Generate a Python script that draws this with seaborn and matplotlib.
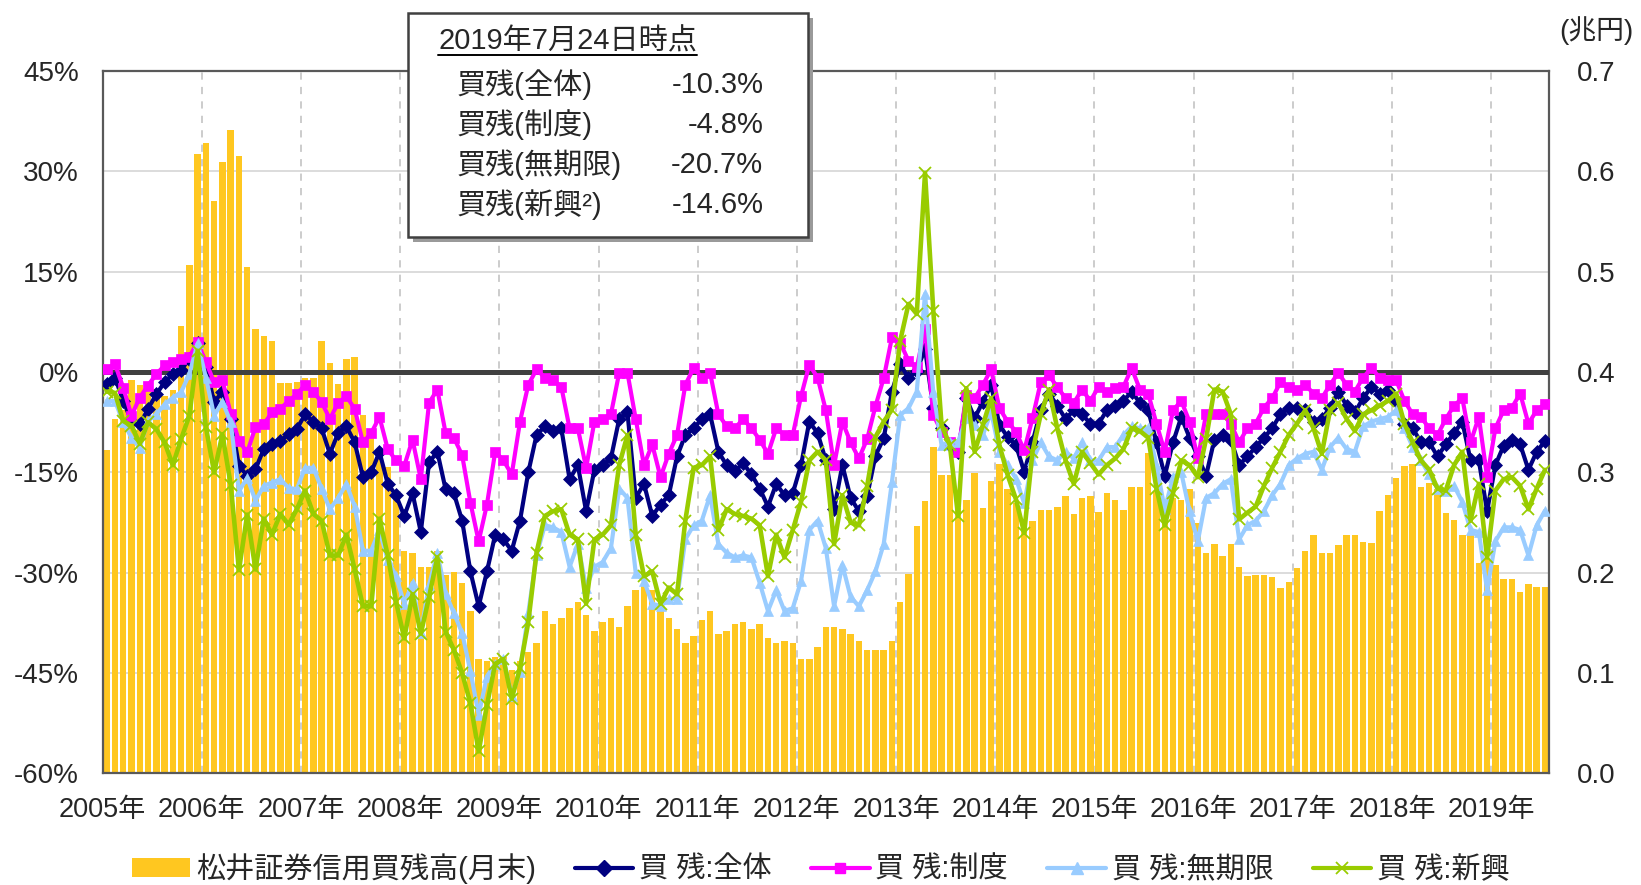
import numpy as np
import pandas as pd
import matplotlib
matplotlib.use("Agg")
import matplotlib.pyplot as plt
import seaborn as sns
from matplotlib.patches import Rectangle, Patch
from matplotlib.lines import Line2D

# ---------------- data (monthly, 2005-01 .. 2019-07) ----------------
years = list(range(2005, 2020))
year_labels = [f"{y}年" for y in years]

balance = [  # 松井証券信用買残高(月末), 兆円
    0.322, 0.353, 0.362, 0.392, 0.387, 0.385, 0.383, 0.376, 0.382, 0.446, 0.507, 0.617,
    0.628, 0.571, 0.609, 0.641, 0.615, 0.505, 0.443, 0.436, 0.431, 0.389, 0.389, 0.390,
    0.394, 0.394, 0.431, 0.409, 0.388, 0.413, 0.415, 0.357, 0.337, 0.320, 0.305, 0.280,
    0.222, 0.220, 0.206, 0.206, 0.222, 0.198, 0.201, 0.190, 0.162, 0.114, 0.112, 0.116,
    0.116, 0.103, 0.112, 0.121, 0.130, 0.162, 0.149, 0.155, 0.165, 0.171, 0.158, 0.142,
    0.151, 0.155, 0.146, 0.167, 0.183, 0.190, 0.183, 0.167, 0.155, 0.144, 0.130, 0.137,
    0.153, 0.162, 0.139, 0.142, 0.149, 0.151, 0.144, 0.149, 0.135, 0.130, 0.132, 0.130,
    0.114, 0.114, 0.126, 0.146, 0.146, 0.144, 0.139, 0.132, 0.123, 0.123, 0.123, 0.132,
    0.171, 0.199, 0.247, 0.272, 0.325, 0.297, 0.297, 0.265, 0.273, 0.299, 0.265, 0.292,
    0.308, 0.284, 0.270, 0.252, 0.252, 0.263, 0.263, 0.266, 0.277, 0.259, 0.275, 0.277,
    0.261, 0.280, 0.273, 0.263, 0.286, 0.286, 0.319, 0.282, 0.273, 0.275, 0.273, 0.284,
    0.250, 0.220, 0.229, 0.217, 0.229, 0.206, 0.197, 0.198, 0.198, 0.196, 0.185, 0.191,
    0.205, 0.222, 0.238, 0.220, 0.220, 0.228, 0.238, 0.238, 0.231, 0.230, 0.262, 0.278,
    0.295, 0.306, 0.308, 0.286, 0.290, 0.284, 0.260, 0.253, 0.238, 0.238, 0.210, 0.215,
    0.208, 0.194, 0.194, 0.181, 0.189, 0.186, 0.186,
]

total = [  # 買残:全体 (%)
    -1.8, -0.8, -4.3, -7.3, -7.8, -5.5, -3.3, -1.5, -0.3, 0.3, 2.0, 4.3,
    0.8, -4.5, -2.9, -7.0, -14.0, -15.5, -14.5, -11.5, -10.8, -10.3, -9.3, -8.5,
    -6.3, -7.4, -8.4, -12.2, -9.1, -8.1, -10.5, -15.7, -15.0, -11.9, -16.7, -18.4,
    -21.5, -18.1, -23.9, -13.5, -11.9, -17.5, -18.1, -22.2, -29.8, -35.0, -29.8, -24.3,
    -25.0, -26.7, -22.2, -15.0, -9.4, -8.1, -8.8, -8.4, -16.0, -13.9, -20.8, -14.6,
    -13.9, -12.9, -7.0, -6.0, -18.8, -16.7, -21.5, -19.8, -18.4, -12.6, -9.4, -8.4,
    -7.0, -6.3, -11.9, -13.9, -14.8, -13.6, -15.3, -17.4, -20.1, -16.7, -18.4, -18.1,
    -13.9, -7.4, -9.1, -13.2, -20.5, -13.9, -18.8, -20.8, -18.5, -12.5, -9.9, -2.9,
    1.2, -0.9, 0.2, 3.5, -5.4, -8.4, -10.9, -11.9, -3.9, -6.9, -4.4, -1.9,
    -7.9, -9.7, -10.9, -14.9, -10.5, -5.7, -3.2, -5.0, -7.0, -5.7, -6.3, -7.7,
    -7.7, -5.7, -5.0, -4.3, -2.9, -4.6, -5.7, -10.5, -15.5, -10.5, -6.7, -9.8,
    -12.6, -15.5, -10.1, -9.4, -10.1, -13.9, -12.6, -11.2, -9.8, -8.4, -6.3, -5.3,
    -5.3, -5.7, -7.4, -7.0, -5.3, -2.9, -5.0, -6.0, -3.9, -2.2, -3.2, -2.6,
    -4.3, -7.7, -8.4, -10.5, -10.5, -12.6, -10.8, -9.1, -7.4, -13.2, -13.2, -20.8,
    -13.9, -11.0, -10.1, -10.8, -14.6, -11.9, -10.3,
]

seido = [  # 買残:制度 (%)
    0.5, 1.2, -2.3, -6.5, -3.8, -2.0, -0.3, 1.0, 1.5, 2.0, 2.3, 4.5,
    1.5, -1.5, -1.2, -6.2, -10.3, -12.0, -8.2, -7.8, -6.0, -5.5, -4.3, -3.3,
    -1.9, -2.9, -4.5, -7.0, -4.6, -3.6, -5.5, -10.5, -9.1, -6.7, -11.5, -13.2,
    -14.0, -10.1, -16.0, -4.6, -2.6, -9.1, -9.8, -12.4, -19.5, -25.3, -19.8, -11.9,
    -13.2, -15.3, -7.4, -1.9, 0.4, -0.8, -1.2, -2.2, -8.4, -8.4, -14.3, -7.4,
    -7.0, -6.3, -0.1, -0.1, -7.0, -13.9, -10.8, -15.7, -12.2, -9.4, -1.9, 0.6,
    -0.8, -0.1, -6.3, -8.1, -8.4, -7.0, -8.4, -10.1, -12.2, -8.4, -9.4, -9.4,
    -3.6, 1.1, -0.8, -5.7, -13.9, -7.4, -10.5, -12.9, -10.0, -5.1, -0.9, 5.2,
    4.4, 1.7, 0.7, 6.5, -6.4, -8.9, -10.5, -11.9, -3.4, -3.9, -1.9, 0.4,
    -5.4, -7.4, -8.9, -11.7, -6.9, -1.5, -0.5, -2.2, -3.9, -4.6, -2.6, -4.3,
    -2.2, -2.9, -2.4, -2.2, 0.6, -2.6, -3.2, -7.7, -11.9, -5.7, -4.3, -7.4,
    -12.9, -6.3, -6.3, -6.3, -7.7, -10.5, -8.4, -7.7, -5.3, -3.9, -1.5, -2.2,
    -2.6, -1.9, -3.2, -3.9, -1.9, -0.1, -1.9, -2.9, -0.8, 0.6, -0.8, -1.2,
    -1.2, -4.3, -6.3, -6.7, -8.4, -9.4, -7.0, -5.0, -3.9, -10.5, -6.7, -15.7,
    -8.4, -5.7, -5.3, -3.2, -7.7, -5.7, -4.8,
]

mukigen = [  # 買残:無期限 (%)
    -4.3, -4.3, -7.5, -9.8, -11.3, -7.3, -6.3, -4.8, -3.8, -3.0, -0.3, 4.3,
    -0.8, -6.5, -4.4, -7.5, -17.8, -15.8, -19.2, -17.0, -16.5, -16.0, -17.3, -17.5,
    -14.3, -14.3, -17.4, -20.5, -18.8, -16.7, -20.1, -26.7, -26.7, -23.6, -28.1, -30.5,
    -34.6, -31.5, -39.0, -31.8, -27.0, -33.1, -36.0, -39.0, -44.7, -51.2, -45.5, -43.6,
    -42.9, -48.4, -44.8, -36.0, -27.4, -22.9, -23.2, -23.9, -29.1, -25.7, -32.2, -29.1,
    -28.4, -26.3, -17.4, -18.8, -30.0, -31.2, -34.6, -35.0, -33.9, -33.9, -25.0, -22.9,
    -22.2, -18.4, -25.7, -27.0, -27.7, -27.4, -27.7, -31.5, -35.7, -32.6, -35.7, -35.3,
    -31.2, -23.6, -22.2, -26.3, -35.0, -28.8, -33.6, -35.0, -32.6, -29.8, -25.7, -16.4,
    -6.4, -5.4, -2.9, 11.7, -3.0, -10.9, -10.4, -10.4, -6.9, -7.9, -9.4, -5.9,
    -11.9, -13.9, -15.9, -19.6, -13.2, -10.5, -12.6, -13.2, -11.9, -12.9, -10.5, -13.2,
    -13.2, -11.2, -11.2, -9.4, -8.1, -8.4, -8.4, -13.9, -20.5, -15.7, -15.0, -20.8,
    -25.3, -18.8, -18.1, -16.7, -16.0, -25.0, -22.9, -22.2, -20.8, -18.4, -16.7, -13.9,
    -12.9, -12.2, -11.9, -14.6, -11.2, -9.8, -11.5, -11.9, -8.1, -7.4, -7.0, -6.7,
    -5.7, -8.4, -11.2, -13.2, -15.3, -17.4, -17.7, -17.0, -19.4, -23.6, -23.9, -32.6,
    -25.3, -23.2, -23.2, -23.6, -27.4, -22.9, -20.7,
]

shinko = [  # 買残:新興 (%)
    -2.9, -3.1, -7.3, -8.0, -10.7, -7.5, -8.5, -10.5, -13.9, -10.0, -6.5, 3.2,
    -8.2, -15.0, -9.3, -16.8, -29.6, -21.3, -29.5, -21.9, -24.3, -21.2, -22.8, -20.5,
    -17.7, -21.2, -22.2, -27.4, -27.4, -24.3, -29.5, -35.0, -35.0, -21.9, -27.4, -34.3,
    -39.8, -33.2, -39.1, -33.6, -27.7, -38.8, -41.5, -45.0, -49.5, -56.7, -49.8, -43.6,
    -42.9, -48.8, -44.3, -37.4, -27.0, -21.5, -20.8, -20.5, -24.3, -25.0, -34.6, -25.0,
    -24.3, -22.9, -13.9, -9.4, -24.3, -30.5, -29.8, -34.6, -32.2, -33.2, -22.2, -14.3,
    -13.9, -12.6, -23.6, -20.5, -21.2, -21.5, -21.9, -22.9, -30.5, -24.3, -27.7, -23.6,
    -19.4, -13.2, -11.9, -13.2, -25.7, -18.4, -22.5, -22.9, -17.0, -9.7, -7.4, -5.6,
    4.7, 10.2, 8.7, 29.8, 9.2, -7.9, -10.9, -21.5, -2.4, -11.9, -7.9, -3.9,
    -10.9, -15.4, -19.0, -24.0, -11.9, -6.3, -2.6, -8.4, -13.2, -16.7, -11.9, -13.6,
    -15.3, -13.9, -12.9, -11.5, -8.4, -8.8, -9.8, -17.4, -22.9, -18.1, -13.2, -13.9,
    -15.7, -10.0, -2.6, -2.9, -6.3, -22.0, -21.0, -20.1, -17.0, -14.3, -11.9, -9.4,
    -7.7, -5.7, -8.4, -12.2, -5.7, -4.6, -7.0, -8.8, -6.3, -5.7, -5.0, -4.3,
    -3.2, -7.7, -10.5, -13.2, -14.6, -17.4, -17.7, -13.9, -11.9, -22.2, -16.7, -27.7,
    -17.7, -16.0, -15.7, -17.0, -20.5, -17.4, -14.6,
]

box_title = "2019年7月24日時点"
box_labels = ["買残(全体)", "買残(制度)", "買残(無期限)", "買残(新興²)"]
box_values = ["-10.3%", "-4.8%", "-20.7%", "-14.6%"]

legend_labels = ["松井証券信用買残高(月末)", "買 残:全体", "買 残:制度", "買 残:無期限", "買 残:新興"]

# ---------------- styling ----------------
sns.set_style("white")
plt.rcParams["font.family"] = ["Liberation Sans", "Noto Sans CJK JP", "DejaVu Sans"]
plt.rcParams["axes.unicode_minus"] = False

BAR_C = "#FFC720"
NAVY = "#000080"
PINK = "#FF00FF"
LBLUE = "#99CCFF"
GREEN = "#99CC00"
SPINE = "#595959"
LW = 3.0

n = len(balance)
idx = np.arange(n)
df = pd.DataFrame({"m": idx, "balance": balance, "total": total,
                   "seido": seido, "mukigen": mukigen, "shinko": shinko})

fig = plt.figure(figsize=(16.41, 8.85), dpi=100)
ax = fig.add_axes([0.0625, 0.126, 0.8815, 0.7936])   # bars (right scale)
ax2 = ax.twinx()                                     # lines (left scale)

# grid / year separators (behind bars)
ax.set_axisbelow(True)
ax.grid(axis="y", color="#d9d9d9", lw=1.3)
ax.grid(axis="x", visible=False)
for k in range(1, len(years)):
    ax.axvline(12 * k - 0.5, color="#c8c8c8", lw=1.3, ls=(0, (4, 4)), zorder=0.5)

sns.barplot(data=df, x="m", y="balance", ax=ax, native_scale=True, orient="x",
            color=BAR_C, saturation=1, width=0.78, errorbar=None, linewidth=0)

ax.set_ylim(0, 0.7)
ax.set_yticks(np.arange(0, 0.71, 0.1))
ax.set_yticklabels([f"{v:.1f}" for v in np.arange(0, 0.71, 0.1)])
ax.yaxis.tick_right()
ax.set_xlim(-0.5, n - 0.5)
ax.set_xticks([12 * k - 0.5 for k in range(len(years))])
ax.set_xticklabels(year_labels)
ax.tick_params(axis="x", length=0, pad=17, labelsize=19.5)
ax.tick_params(axis="y", length=0, pad=20, labelsize=20, right=True, labelright=True,
               left=False, labelleft=False)
ax.set_xlabel("")
ax.set_ylabel("")
for s in ax.spines.values():
    s.set_visible(True)
    s.set_color(SPINE)
    s.set_linewidth(1.6)

# lines on left scale
ax2.axhline(0, color="#404040", lw=3.6, zorder=1)
sns.lineplot(data=df, x="m", y="total", ax=ax2, color=NAVY, lw=LW, marker="D",
             markersize=7, markeredgecolor=NAVY, markeredgewidth=0.5, errorbar=None, legend=False, zorder=3)
sns.lineplot(data=df, x="m", y="seido", ax=ax2, color=PINK, lw=LW, marker="s",
             markersize=6.5, markeredgecolor=PINK, markeredgewidth=0.5, errorbar=None, legend=False, zorder=4)
sns.lineplot(data=df, x="m", y="mukigen", ax=ax2, color=LBLUE, lw=LW, marker="^",
             markersize=7.5, markeredgecolor=LBLUE, markeredgewidth=0.5, errorbar=None, legend=False, zorder=5)
sns.lineplot(data=df, x="m", y="shinko", ax=ax2, color=GREEN, lw=LW + 0.3, marker="x",
             markersize=8, markeredgecolor=GREEN, markeredgewidth=1.3, errorbar=None, legend=False, zorder=6)

ax2.set_ylim(-60, 45)
ax2.set_yticks(np.arange(-60, 46, 15))
ax2.set_yticklabels([f"{v}%" for v in range(-60, 46, 15)])
ax2.yaxis.set_ticks_position("left")
ax2.yaxis.set_label_position("left")
ax2.tick_params(axis="y", length=0, pad=17, labelsize=20, left=True, labelleft=True,
                right=False, labelright=False)
ax2.set_xlim(-0.5, n - 0.5)
ax2.set_xlabel("")
ax2.set_ylabel("")
for s in ax2.spines.values():
    s.set_visible(False)

# unit label
fig.text(0.973, 0.966, "(兆円)", ha="center", va="center", fontsize=20)

# info box with shadow
bx0, by0, bw, bh = 408 / 1641, 1 - 237 / 885, 400 / 1641, 224 / 885
shadow = Rectangle((bx0 + 5 / 1641, by0 - 5 / 885), bw, bh, transform=fig.transFigure,
                   facecolor="#9a9a9a", edgecolor="none", zorder=10)
box = Rectangle((bx0, by0), bw, bh, transform=fig.transFigure,
                facecolor="white", edgecolor="#404040", lw=1.8, zorder=11)
fig.add_artist(shadow)
fig.add_artist(box)
t_title = fig.text(438 / 1641, 1 - 41.7 / 885, box_title, ha="left", va="center",
                   fontsize=21, zorder=12)
row_y = [85, 125, 165, 205]
for lab, val, yy in zip(box_labels, box_values, row_y):
    fig.text(456.7 / 1641, 1 - yy / 885, lab, ha="left", va="center", fontsize=21, zorder=12)
    fig.text(763.3 / 1641, 1 - yy / 885, val, ha="right", va="center", fontsize=21, zorder=12)

# underline title
fig.canvas.draw()
bb = t_title.get_window_extent().transformed(fig.transFigure.inverted())
fig.add_artist(Line2D([bb.x0, bb.x1], [1 - 54.5 / 885] * 2, transform=fig.transFigure,
                      color="black", lw=1.4, zorder=12))

# legend
handles = [
    Patch(facecolor=BAR_C, edgecolor="none"),
    Line2D([], [], color=NAVY, lw=LW, marker="D", markersize=8, markeredgecolor=NAVY),
    Line2D([], [], color=PINK, lw=LW, marker="s", markersize=7, markeredgecolor=PINK),
    Line2D([], [], color=LBLUE, lw=LW, marker="^", markersize=8, markeredgecolor=LBLUE),
    Line2D([], [], color=GREEN, lw=LW, marker="x", markersize=9, markeredgecolor=GREEN,
           markeredgewidth=1.3),
]
fig.legend(handles, legend_labels, loc="center", bbox_to_anchor=(0.5, 0.0185), ncol=5,
           frameon=False, fontsize=21, handlelength=2.0, handleheight=0.6,
           handletextpad=0.2, columnspacing=1.35)

fig.savefig("out.png", dpi=100)
